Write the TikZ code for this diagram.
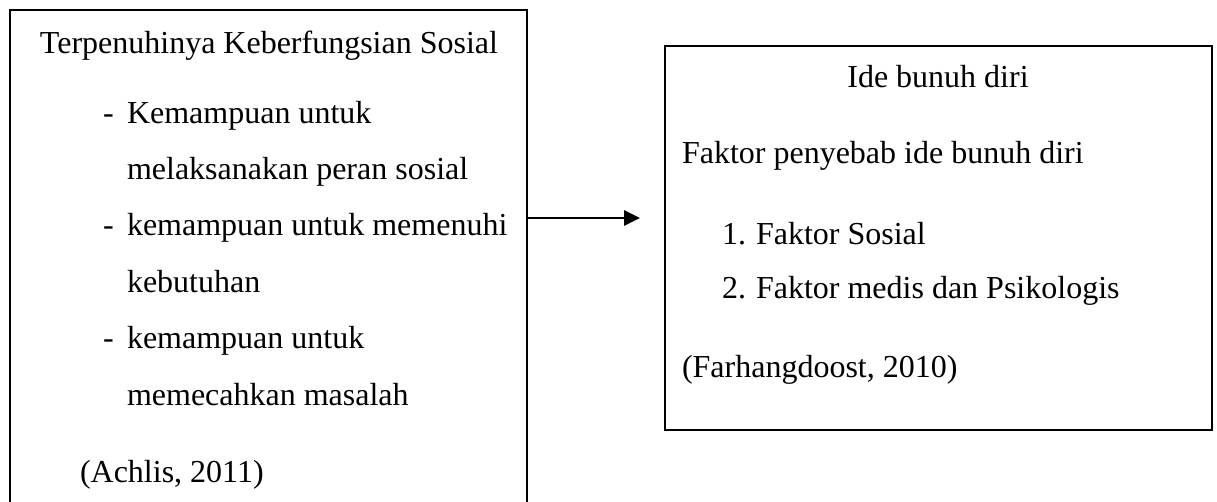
\documentclass[tikz,border=0pt]{standalone}
\usepackage{fontspec}
\setmainfont{Liberation Serif}
\usetikzlibrary{arrows.meta}
\begin{document}
\begin{tikzpicture}[x=1pt,y=-1pt,
  boxstyle/.style={draw=black,line width=2.8pt,rectangle,inner sep=0pt,outer sep=0pt},
  txt/.style={inner sep=0pt,outer sep=0pt,anchor=base west,font=\fontsize{32}{38}\selectfont},
  ctxt/.style={txt,anchor=base},
  conn/.style={line width=2.6pt,-{Triangle[length=16pt,width=15pt]}}]
\useasboundingbox (0,0) rectangle (1217,502);
\clip (0,0) rectangle (1217,502);
% boxes
\node[boxstyle,minimum width=517pt,minimum height=520pt] (L) at (268.5,270) {};
\node[boxstyle,minimum width=547pt,minimum height=384pt] (R) at (938.5,238) {};
% left texts
\node[ctxt] (lt) at (269,54) {Terpenuhinya Keberfungsian Sosial};
\node[txt] (d1) at (103,123.4) {-};
\node[txt] (i1a) at (127,123.4) {Kemampuan untuk};
\node[txt] (i1b) at (127,179.7) {melaksanakan peran sosial};
\node[txt] (d2) at (103,236) {-};
\node[txt] (i2a) at (127,236) {kemampuan untuk memenuhi};
\node[txt] (i2b) at (127,292.3) {kebutuhan};
\node[txt] (d3) at (103,348.6) {-};
\node[txt] (i3a) at (127,348.6) {kemampuan untuk};
\node[txt] (i3b) at (127,405) {memecahkan masalah};
\node[txt] (lc) at (80,482) {(Achlis, 2011)};
% right texts
\node[ctxt] (rt) at (938,88) {Ide bunuh diri};
\node[txt] (rf) at (682,164) {Faktor penyebab ide bunuh diri};
\node[txt] (n1) at (722,245) {1.};
\node[txt] (r1) at (756,245) {Faktor Sosial};
\node[txt] (n2) at (722,299) {2.};
\node[txt] (r2) at (756,299) {Faktor medis dan Psikologis};
\node[txt] (rc) at (682,377) {(Farhangdoost, 2010)};
% arrow
\coordinate (tip) at (640,218);
\draw[conn] (L.east |- tip) -- (tip);
\end{tikzpicture}
\end{document}
